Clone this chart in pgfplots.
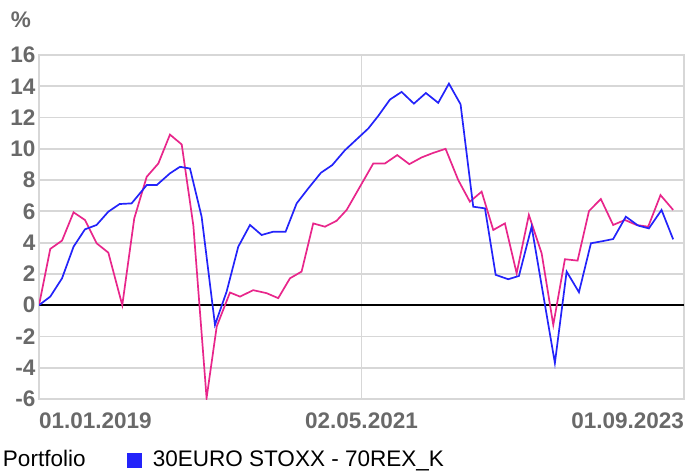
\documentclass[border=0pt]{standalone}
\usepackage{pgfplots}
\pgfplotsset{compat=1.18}
\usepackage{fontspec}
\setmainfont{Liberation Sans}
\definecolor{pinkline}{RGB}{232,38,139}
\definecolor{blueline}{RGB}{35,35,250}
\definecolor{lblgray}{RGB}{105,105,105}
\definecolor{gridgray}{RGB}{215,215,215}
\begin{document}
\begin{tikzpicture}
\path[use as bounding box] (0,0) rectangle (686bp,-473bp);
\begin{axis}[
  at={(39bp,-399bp)}, anchor=south west,
  scale only axis, width=645bp, height=344bp,
  xmin=0, xmax=56, ymin=-6, ymax=16,
  xtick={0,28,56},
  xticklabels={{\makebox[0pt][l]{01.01.2019}},{02.05.2021},{\makebox[0pt][r]{01.09.2023}}},
  ytick={-6,-4,...,16},
  major tick length=0pt,
  xmajorgrids, ymajorgrids,
  grid style={gridgray, line width=1.8bp},
  axis line style={gridgray, line width=1.8bp},
  /pgf/number format/assume math mode=true,
  ticklabel style={font=\fontsize{22.6}{27}\selectfont\bfseries, text=lblgray},
  xticklabel style={yshift=-10bp},
  extra y ticks={0}, extra y tick labels={},
  extra y tick style={grid style={black, line width=1.5bp}},
  legend columns=2,
  legend style={at={(-0.0729,-0.1759)}, anchor=west, draw=none, fill=none,
    inner sep=0pt, outer sep=0pt,
    font=\fontsize{22.6}{27}\selectfont,
    nodes={inner sep=0pt},
    /tikz/every odd column/.style={column sep=11bp},
    /tikz/every even column/.style={column sep=41.5bp}},
  legend cell align=left,
]
\addplot[pinkline, line width=1.7bp, legend image code/.code={}] table {
x y
0 0
0.98 3.6
2.0 4.13
3.0 5.94
3.99 5.45
5.0 3.96
6.02 3.36
7.23 0.0
8.27 5.55
9.35 8.21
10.36 9.06
11.37 10.91
12.39 10.28
13.4 5.1
14.55 -5.94
15.43 -1.36
16.58 0.81
17.45 0.55
18.6 0.96
19.76 0.77
20.77 0.45
21.79 1.72
22.8 2.15
23.81 5.23
24.83 5.02
25.84 5.40
26.71 6.09
29.02 9.06
30.03 9.06
31.1 9.60
32.15 9.02
33.22 9.45
34.23 9.74
35.3 10.0
36.4 8.0
37.41 6.62
38.43 7.26
39.44 4.81
40.45 5.23
41.47 2.04
42.53 5.77
43.64 3.32
44.65 -1.26
45.66 2.94
46.76 2.85
47.75 6.02
48.78 6.79
49.85 5.13
50.87 5.45
51.88 5.13
52.89 5.02
53.96 7.04
55.06 6.09
};
\addlegendentry{Portfolio}
\addplot[blueline, line width=1.7bp, legend image code/.code={\fill[blueline] (0bp,-7.5bp) rectangle (13bp,5.5bp);}] table {
x y
0 0
0.98 0.55
2.0 1.72
3.0 3.74
3.99 4.85
5.0 5.13
6.02 5.98
7.0 6.47
8.04 6.51
9.35 7.68
10.22 7.68
11.37 8.43
12.24 8.85
13.11 8.74
14.12 5.66
15.28 -1.26
16.29 0.87
17.3 3.74
18.32 5.13
19.33 4.49
20.34 4.70
21.41 4.70
22.37 6.51
23.38 7.47
24.48 8.47
25.46 8.96
26.56 9.91
28.59 11.30
29.45 12.1
30.47 13.15
31.48 13.64
32.55 12.89
33.59 13.57
34.66 12.94
35.59 14.17
36.6 12.85
37.7 6.30
38.72 6.19
39.65 1.94
40.74 1.66
41.67 1.87
42.77 5.02
44.79 -3.70
45.81 2.15
46.88 0.83
47.92 3.96
48.9 4.09
49.85 4.23
50.95 5.66
52.02 5.09
52.95 4.91
54.05 6.09
55.06 4.21
};
\addlegendentry{30EURO STOXX - 70REX\_K}
\end{axis}
\node[font=\fontsize{22.6}{27}\selectfont\bfseries, text=lblgray] at (21bp,-20bp) {\%};
\end{tikzpicture}
\end{document}
